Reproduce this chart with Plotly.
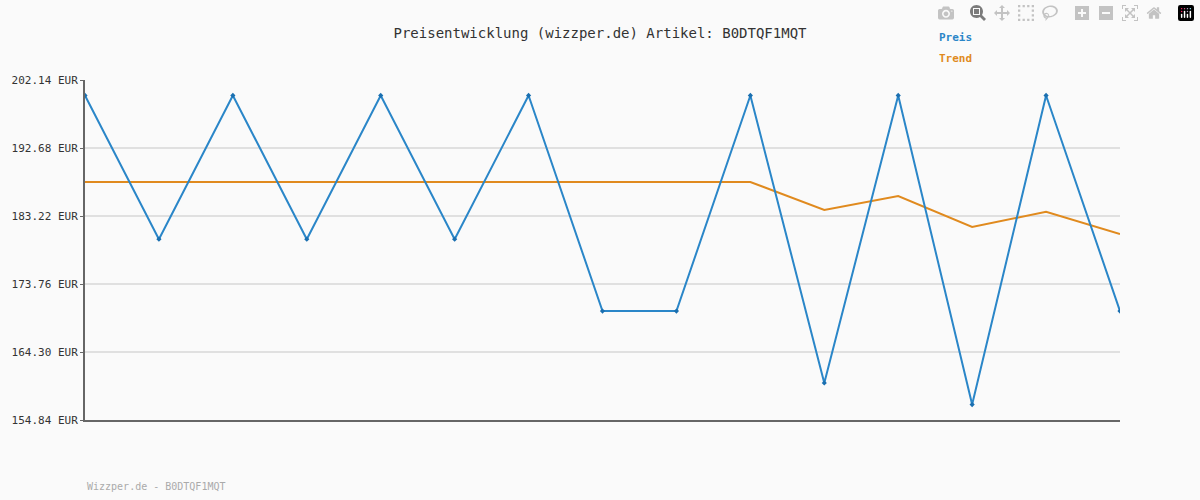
import plotly.graph_objects as go

x_idx = list(range(15))
preis = [199.99, 179.99, 199.99, 179.99, 199.99, 179.99, 199.99, 169.99, 169.99, 199.99, 159.99, 199.99, 156.99, 199.99, 169.99]
trend = [187.95]*10 + [184.05, 186.0, 181.7, 183.8, 180.7]
y_ticks = [154.84, 164.30, 173.76, 183.22, 192.68, 202.14]
y_labels = [f"{v:.2f} EUR" for v in y_ticks]

font = "DejaVu Sans Mono, Courier New, monospace"
fig = go.Figure()
fig.add_trace(go.Scatter(x=x_idx, y=trend, mode="lines", line=dict(color="#e08a1e", width=2), showlegend=False, hoverinfo="skip"))
fig.add_trace(go.Scatter(x=x_idx, y=preis, mode="lines+markers", line=dict(color="#2a86c8", width=2),
                         marker=dict(size=4, color="#1a6fb0", symbol="diamond"), showlegend=False))
fig.update_layout(
    width=1200, height=500, paper_bgcolor="#fafafa", plot_bgcolor="#fafafa",
    margin=dict(l=80, r=80, t=80, b=80),
    font=dict(family=font, size=12, color="#333"),
    title=dict(text="Preisentwicklung (wizzper.de) Artikel: B0DTQF1MQT", x=0.5, y=0.944, xanchor="center",
               font=dict(family=font, size=14, color="#333")),
    xaxis=dict(range=[0, 14], showticklabels=False, showgrid=False, zeroline=False,
               showline=True, linecolor="#666", linewidth=2, ticks=""),
    yaxis=dict(range=[154.84, 202.14], tickvals=y_ticks, ticktext=y_labels, showgrid=True,
               gridcolor="#e0e0e0", gridwidth=2, zeroline=False, showline=True, linecolor="#666", linewidth=2,
               ticks="outside", ticklen=3, tickcolor="#666", tickfont=dict(family=font, size=11, color="#333")),
    annotations=[
        dict(text="<b>Preis</b>", xref="paper", yref="paper", x=0.823, y=1.125, xanchor="left", yanchor="middle",
             showarrow=False, font=dict(family=font, size=11, color="#2a86c8")),
        dict(text="<b>Trend</b>", xref="paper", yref="paper", x=0.823, y=1.063, xanchor="left", yanchor="middle",
             showarrow=False, font=dict(family=font, size=11, color="#e08a1e")),
        dict(text="Wizzper.de - B0DTQF1MQT", xref="paper", yref="paper", x=0, y=-0.197, xanchor="left",
             yanchor="middle", showarrow=False, font=dict(family=font, size=10, color="#aaa")),
    ],
)
fig.write_html("out.html")
with open("out.html", encoding="utf-8") as f:
    html = f.read()
html = html.replace("<body>", '<body style="margin:0;padding:0;">', 1)
with open("out.html", "w", encoding="utf-8") as f:
    f.write(html)
